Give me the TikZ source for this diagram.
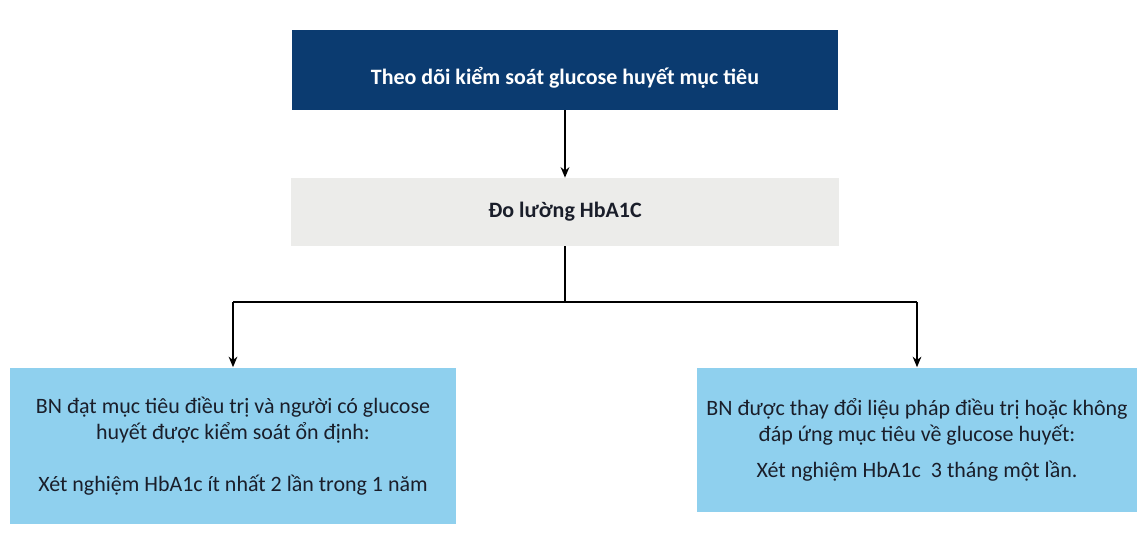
\documentclass[tikz,border=0pt]{standalone}
\usepackage{fontspec}
\setmainfont{Carlito}
\usetikzlibrary{arrows.meta}
\definecolor{topblue}{HTML}{0B3B70}
\definecolor{boxgray}{HTML}{ECECEA}
\definecolor{skyblue}{HTML}{8FD0EE}
\definecolor{inktext}{HTML}{1A1E2A}
\begin{document}
\begin{tikzpicture}[x=0.02cm, y=-0.02cm,
  headbox/.style={fill=topblue, text=white, font=\bfseries\fontsize{12.5}{15}\selectfont,
    minimum width=10.94cm, minimum height=1.6cm, inner sep=0pt,
    text height=0.7cm, text depth=0.1cm},
  measurebox/.style={fill=boxgray, text=inktext, font=\bfseries\fontsize{12.5}{15}\selectfont,
    minimum width=10.96cm, minimum height=1.36cm, inner sep=0pt},
  casebox/.style={fill=skyblue, text=inktext, font=\fontsize{12.5}{14.7}\selectfont,
    align=center, inner sep=0pt},
  link/.style={thick, black},
  tip/.style={link, -{Stealth[length=6pt, width=5pt]}}]
\useasboundingbox (0, 0) rectangle (1141, 540);
\node [headbox] (goal) at (565, 70) {Theo dõi kiểm soát glucose huyết mục tiêu};
\node [measurebox] (hba) at (565, 212) {Đo lường HbA1C};
\node [casebox, minimum width=8.94cm, minimum height=3.14cm] (stable) at (233, 446)
  {BN đạt mục tiêu điều trị và người có glucose\\ huyết được kiểm soát ổn định:\\[14.7pt]
   Xét nghiệm HbA1c ít nhất 2 lần trong 1 năm};
\node [casebox, minimum width=8.8cm, minimum height=2.9cm] (change) at (917, 440)
  {BN được thay đổi liệu pháp điều trị hoặc không\\ đáp ứng mục tiêu về glucose huyết:\\[6pt]
   Xét nghiệm HbA1c \ 3 tháng một lần.};
\coordinate (split) at (565, 302);
\coordinate (splitl) at (233, 302);
\coordinate (splitr) at (917, 302);
\draw [tip] (goal) -- (hba);
\draw [link] (hba) -- (split);
\draw [link] (splitl) -- (splitr);
\draw [tip] (splitl) -- (stable);
\draw [tip] (splitr) -- (change);
\end{tikzpicture}
\end{document}
